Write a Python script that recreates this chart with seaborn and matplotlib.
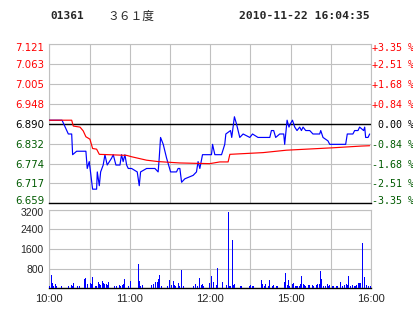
import matplotlib
matplotlib.use("Agg")
import matplotlib.pyplot as plt
import matplotlib.transforms as mtransforms
import seaborn as sns

sns.set_theme(style="white")
plt.rcParams['font.family'] = ['DejaVu Sans']

# ---------------- data ----------------
prev_close = 6.890
price_ticks = [6.659, 6.717, 6.774, 6.832, 6.890, 6.948, 7.005, 7.063, 7.121]
price_labels = ["6.659", "6.717", "6.774", "6.832", "6.890", "6.948", "7.005", "7.063", "7.121"]
pct_labels = ["-3.35 %", "-2.51 %", "-1.68 %", "-0.84 %", " 0.00 %",
              "+0.84 %", "+1.68 %", "+2.51 %", "+3.35 %"]
vol_ticks = [800, 1600, 2400, 3200]
vol_tick_labels = ["800", "1600", "2400", "3200"]
time_ticks = [0, 30, 60, 90, 120, 150, 180, 210, 240]
time_labels = ["10:00", "", "11:00", "", "12:00", "", "15:00", "", "16:00"]

# minutes since 10:00 (trading time, lunch break removed) and last price
price_min = [0, 9.5, 14.2, 16.7, 17.4, 20.4, 27.3, 28.3, 29.8, 32.3, 35.3, 35.8, 37.3, 38.3,
             40.2, 41.5, 43.2, 46.5, 47.7, 49.7, 52.7, 53.9, 55.1, 56.4, 57.7, 58.9, 61.4,
             65.6, 67.1, 68.1, 72.6, 78.8, 81.2, 82.0, 83.0, 85.0, 87.5, 90.5, 94.9, 96.1,
             97.4, 98.7, 101.1, 107.3, 109.8, 111.0, 112.3, 114.3, 121.0, 121.8, 123.5,
             128.5, 130.9, 131.7, 135.2, 136.1, 138.1, 139.6, 142.1, 144.6, 149.6, 151.6,
             155.7, 158.3, 164.5, 165.7, 167.4, 168.9, 171.9, 174.9, 175.6, 177.4, 178.8,
             179.9, 181.4, 183.1, 184.8, 186.8, 188.1, 189.3, 191.3, 194.3, 196.7, 201.7,
             202.5, 204.2, 207.9, 209.2, 221.1, 222.3, 226.5, 227.8, 230.3, 231.5, 234.5,
             235.3, 236.0, 237.8, 239.0]
price_val = [6.90, 6.90, 6.86, 6.86, 6.80, 6.81, 6.81, 6.76, 6.78, 6.70, 6.70, 6.75, 6.71, 6.75,
             6.77, 6.80, 6.77, 6.79, 6.80, 6.77, 6.77, 6.80, 6.78, 6.80, 6.77, 6.76, 6.76,
             6.75, 6.71, 6.75, 6.76, 6.76, 6.75, 6.79, 6.85, 6.83, 6.79, 6.75, 6.75, 6.76,
             6.76, 6.72, 6.73, 6.74, 6.75, 6.78, 6.76, 6.80, 6.80, 6.83, 6.80,
             6.80, 6.83, 6.86, 6.87, 6.85, 6.91, 6.89, 6.85, 6.86, 6.85, 6.86,
             6.85, 6.85, 6.85, 6.87, 6.87, 6.85, 6.86, 6.86, 6.83, 6.90, 6.88,
             6.89, 6.90, 6.88, 6.87, 6.88, 6.87, 6.88, 6.87, 6.87, 6.86, 6.86,
             6.87, 6.85, 6.84, 6.83, 6.83, 6.86, 6.86, 6.87, 6.87, 6.88, 6.87,
             6.88, 6.85, 6.85, 6.86]

avg_min = [0, 16.7, 17.9, 22.9, 25.3, 27.3, 30.3, 32.3, 35.3, 37.3, 57.7, 61.4, 72.6, 81.2,
           97.4, 119.7, 127.2, 133.4, 134.7, 159.5, 176.9, 211.6, 232.8, 239.0]
avg_val = [6.900, 6.900, 6.883, 6.880, 6.869, 6.852, 6.845, 6.818, 6.816, 6.801, 6.798,
           6.794, 6.784, 6.780, 6.776, 6.774, 6.779, 6.779, 6.801, 6.806, 6.813, 6.820,
           6.825, 6.826]

vol_min = [0, 1, 2, 3, 4, 5, 9, 14, 16, 17, 18, 21, 22, 26, 27, 28, 30, 31, 32, 34, 35, 36,
           37, 38, 39, 40, 41, 42, 43, 44, 48, 50, 52, 53, 54, 55, 56, 59, 60, 66, 67, 68,
           69, 76, 77, 79, 80, 81, 82, 83, 88, 89, 91, 92, 93, 94, 96, 97, 98, 100, 107,
           109, 110, 112, 113, 114, 115, 119, 121, 122, 124, 125, 129, 132, 133, 134, 135,
           136, 137, 138, 142, 143, 149, 150, 151, 152, 158, 159, 160, 161, 163, 164, 166,
           167, 169, 170, 175, 176, 177, 178, 179, 181, 182, 183, 184, 185, 186, 187, 188,
           189, 190, 191, 193, 194, 196, 197, 199, 200, 201, 202, 203, 204, 206, 207, 208,
           209, 211, 212, 214, 215, 217, 218, 220, 221, 222, 223, 224, 226, 227, 228, 229,
           230, 231, 232, 233, 235, 236, 238, 239]
vol_val = [110, 540, 200, 95, 160, 95, 95, 95, 135, 95, 215, 95, 95, 380, 420, 175, 215, 175,
           460, 95, 95, 260, 175, 135, 300, 215, 160, 175, 135, 260, 95, 95, 135, 95, 135,
           175, 380, 95, 300, 975, 300, 110, 135, 135, 175, 260, 260, 360, 540, 95, 95, 340,
           135, 300, 135, 95, 215, 95, 745, 95, 95, 175, 95, 420, 135, 175, 95, 215, 500,
           260, 135, 830, 260, 135, 3090, 95, 95, 1970, 135, 175, 95, 95, 95, 135, 95, 95,
           340, 175, 95, 175, 95, 340, 95, 135, 95, 95, 260, 625, 135, 340, 95, 175, 215,
           95, 95, 95, 95, 175, 500, 175, 135, 95, 135, 135, 135, 95, 135, 175, 175, 705,
           380, 95, 95, 175, 95, 135, 95, 95, 95, 95, 260, 95, 135, 175, 135, 500, 95, 135,
           95, 95, 135, 215, 215, 215, 1820, 460, 135, 95, 95]

# ---------------- style ----------------
GRID = '#c0c0c0'
RED = '#ff0000'
GREEN = '#005a00'
BLUE = '#0000ff'
W, H = 414, 314

fig = plt.figure(figsize=(W / 100, H / 100), dpi=100)
fig.patch.set_facecolor('white')

x0, x1 = 49.3, 371.0
ax1 = fig.add_axes([x0 / W, 1 - 203.3 / H, (x1 - x0) / W, (203.3 - 44.0) / H])
ax2 = fig.add_axes([x0 / W, 1 - 288.3 / H, (x1 - x0) / W, (288.3 - 209.5) / H])

def frame(ax):
    ax.set_facecolor('white')
    for s in ['left', 'top', 'right']:
        ax.spines[s].set_color(GRID)
        ax.spines[s].set_linewidth(0.8)
    ax.spines['bottom'].set_color('black')
    ax.spines['bottom'].set_linewidth(1.0)
    ax.set_xlim(0, 240)
    ax.set_xticks(time_ticks)
    ax.grid(True, color=GRID, linewidth=0.8)
    ax.tick_params(length=0)

def shift(label, dy):
    label.set_transform(mtransforms.offset_copy(label.get_transform(), fig=fig, y=dy, units='dots'))

def level_color(v):
    if abs(v - prev_close) < 1e-9:
        return 'black'
    return RED if v > prev_close else GREEN

# ---- price panel ----
frame(ax1)
ax1.set_ylim(price_ticks[0], price_ticks[-1])
ax1.set_yticks(price_ticks)
ax1.set_yticklabels(price_labels, fontsize=7.3, family='DejaVu Sans')
ax1.set_xticklabels([])
ax1.tick_params(axis='y', pad=3.5)
ax1.axhline(prev_close, color='black', linewidth=1.0, zorder=3)

sns.lineplot(x=price_min, y=price_val, ax=ax1, color=BLUE, linewidth=0.85,
             estimator=None, sort=False, zorder=4)
sns.lineplot(x=avg_min, y=avg_val, ax=ax1, color=RED, linewidth=0.85,
             estimator=None, sort=False, zorder=5)
ax1.set_xlabel('')
ax1.set_ylabel('')

axr = ax1.twinx()
axr.set_ylim(ax1.get_ylim())
axr.set_yticks(price_ticks)
axr.set_yticklabels(pct_labels, fontsize=7.2, family='DejaVu Sans Mono')
axr.tick_params(length=0, pad=1)
for s in axr.spines.values():
    s.set_visible(False)

# ---- volume panel ----
frame(ax2)
ax2.set_ylim(0, 3200)
ax2.set_yticks(vol_ticks)
ax2.set_yticklabels(vol_tick_labels, fontsize=7.5, family='Liberation Sans')
ax2.tick_params(axis='y', pad=4)
ax2.set_xticklabels(time_labels, fontsize=8, family='Liberation Sans')
ax2.tick_params(axis='x', pad=4)
ax2.vlines(vol_min, 0, vol_val, colors=BLUE, linewidth=0.5, antialiased=False, zorder=3)

# colours and edge offsets of the tick labels
for labs in (ax1.get_yticklabels(), axr.get_yticklabels()):
    for lab, v in zip(labs, price_ticks):
        lab.set_color(level_color(v))
    shift(labs[0], 3)
    shift(labs[-1], -3)
shift(ax2.get_yticklabels()[-1], -3)

# ---- header ----
fig.text(50 / W, 1 - 16 / H, "01361", fontsize=8, family='DejaVu Sans Mono',
         fontweight='bold', va='center', ha='left')
fig.text(107 / W, 1 - 16 / H, "３６１度", fontsize=8.5, family=['Noto Sans CJK SC', 'DejaVu Sans'],
         va='center', ha='left')
fig.text(370 / W, 1 - 16 / H, "2010-11-22 16:04:35", fontsize=8.2, family='DejaVu Sans Mono',
         fontweight='bold', va='center', ha='right')

fig.savefig('out.png', dpi=100, facecolor='white')
